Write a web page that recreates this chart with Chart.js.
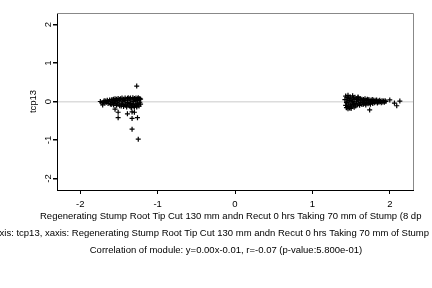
<!DOCTYPE html>
<html>
<head>
<meta charset="utf-8">
<script src="https://cdn.jsdelivr.net/npm/chart.js@4"></script>
<style>
  html, body { margin: 0; padding: 0; background: #fff; }
  #wrap { width: 432px; height: 288px; }
</style>
</head>
<body>
<div id="wrap"><canvas id="scatter" width="432" height="288"></canvas></div>
<script>
// Tick values on both axes
const xTicks = [-2, -1, 0, 1, 2];
const yTicks = [-2, -1, 0, 1, 2];

// Left cluster (dense band)
const leftX = [-1.74,-1.72,-1.70,-1.69,-1.68,-1.67,-1.66,-1.65,-1.64,-1.63,
  -1.62,-1.61,-1.60,-1.60,-1.59,-1.58,-1.57,-1.57,-1.56,-1.55,
  -1.55,-1.54,-1.53,-1.53,-1.52,-1.51,-1.51,-1.50,-1.49,-1.49,
  -1.48,-1.47,-1.47,-1.46,-1.45,-1.45,-1.44,-1.44,-1.43,-1.42,
  -1.42,-1.41,-1.41,-1.40,-1.39,-1.39,-1.38,-1.38,-1.37,-1.36,
  -1.36,-1.35,-1.35,-1.34,-1.33,-1.33,-1.32,-1.32,-1.31,-1.30,
  -1.30,-1.29,-1.29,-1.28,-1.28,-1.27,-1.27,-1.26,-1.26,-1.25,
  -1.25,-1.24,-1.24,-1.23,-1.23,-1.22,-1.22,-1.34,-1.30,-1.27];
const leftY = [0.00,-0.03,-0.01,0.02,-0.04,0.01,-0.02,0.03,-0.05,0.00,
  0.04,-0.06,0.02,-0.08,0.05,-0.03,0.06,-0.09,0.01,0.07,
  -0.05,0.03,-0.10,0.06,-0.02,0.08,-0.07,0.02,-0.11,0.05,
  0.07,-0.04,-0.12,0.09,0.01,-0.08,0.06,-0.13,0.03,-0.06,
  0.09,-0.10,0.04,-0.14,0.08,-0.03,0.10,-0.09,0.02,-0.12,
  0.07,-0.05,0.09,-0.15,0.04,-0.08,0.10,-0.11,0.00,0.08,
  -0.13,0.05,-0.06,0.09,-0.10,0.03,-0.14,0.07,-0.04,0.10,
  -0.09,0.05,-0.12,0.08,-0.02,0.06,-0.07,-0.16,-0.15,-0.12];

// Left cluster outliers
const leftOutX = [-1.71,-1.55,-1.51,-1.51,-1.39,-1.33,-1.30,-1.33,-1.26,-1.33,-1.25,-1.27];
const leftOutY = [-0.09,-0.20,-0.28,-0.42,-0.32,-0.27,-0.28,-0.44,-0.42,-0.72,-0.98,0.40];

// Right cluster (dense band)
const rightX = [1.42,1.43,1.43,1.44,1.44,1.45,1.45,1.46,1.46,1.47,
  1.47,1.48,1.48,1.49,1.49,1.50,1.50,1.51,1.51,1.52,
  1.52,1.53,1.53,1.54,1.54,1.55,1.55,1.56,1.57,1.57,
  1.58,1.58,1.59,1.60,1.60,1.61,1.62,1.62,1.63,1.64,
  1.64,1.65,1.66,1.66,1.67,1.68,1.68,1.69,1.70,1.70,
  1.71,1.72,1.72,1.73,1.74,1.75,1.75,1.76,1.77,1.78,
  1.78,1.79,1.80,1.81,1.82,1.83,1.84,1.85,1.86,1.87,
  1.88,1.89,1.90,1.91,1.92,1.93,1.94,1.95,1.46,1.50];
const rightY = [0.05,-0.10,0.14,-0.03,-0.16,0.10,0.01,-0.13,0.16,-0.06,
  0.08,-0.17,0.03,-0.09,0.12,-0.14,0.06,-0.02,-0.11,0.15,
  0.00,-0.08,0.09,-0.15,0.04,-0.05,0.11,-0.12,0.07,-0.01,
  -0.09,0.05,0.10,-0.06,0.02,-0.10,0.07,-0.03,0.04,-0.08,
  0.06,-0.02,-0.07,0.05,0.01,-0.05,0.07,-0.09,0.03,-0.03,
  0.06,-0.06,0.02,0.05,-0.04,0.01,-0.07,0.04,-0.02,0.05,
  -0.05,0.02,-0.03,0.03,-0.01,0.04,-0.04,0.01,-0.02,0.03,
  0.00,-0.03,0.02,-0.01,0.01,-0.02,0.02,0.00,-0.19,-0.18];

// Right cluster outliers / tail
const rightOutX = [1.59, 1.74, 2.00, 2.06, 2.13, 2.09];
const rightOutY = [0.12, -0.22, 0.04, -0.04, 0.01, -0.11];

const yTitle = 'tcp13';
const xTitle = 'Regenerating Stump Root Tip Cut 130 mm andn Recut 0 hrs Taking 70 mm of Stump (8 dp';
const subTitle = 'yaxis: tcp13, xaxis: Regenerating Stump Root Tip Cut 130 mm andn Recut 0 hrs Taking 70 mm of Stump';
const corrText = 'Correlation of module: y=0.00x-0.01, r=-0.07 (p-value:5.800e-01)';

const FONT = '"Liberation Sans", Arial, sans-serif';

function toPoints(xs, ys) {
    return xs.map((x, i) => ({ x: x, y: ys[i] }));
}

const allPoints = [].concat(
    toPoints(leftX, leftY),
    toPoints(leftOutX, leftOutY),
    toPoints(rightX, rightY),
    toPoints(rightOutX, rightOutY)
);

// Frame, rotated y labels and the text lines under the plot
const decorations = {
    id: 'decorations',
    afterDraw(chart) {
        const ctx = chart.ctx;
        const area = chart.chartArea;
        const ys = chart.scales.y;

        ctx.save();
        // top and right border in grey
        ctx.strokeStyle = '#888';
        ctx.lineWidth = 1;
        ctx.beginPath();
        ctx.moveTo(area.left, area.top + 0.5);
        ctx.lineTo(area.right + 0.5, area.top + 0.5);
        ctx.lineTo(area.right + 0.5, area.bottom);
        ctx.stroke();

        ctx.fillStyle = '#000';
        ctx.font = '9.5px ' + FONT;
        ctx.textAlign = 'center';
        ctx.textBaseline = 'middle';

        // rotated y tick labels
        yTicks.forEach(v => {
            ctx.save();
            ctx.translate(48, ys.getPixelForValue(v));
            ctx.rotate(-Math.PI / 2);
            ctx.fillText(String(v), 0, 0);
            ctx.restore();
        });

        // y axis title
        ctx.save();
        ctx.translate(33, ys.getPixelForValue(0));
        ctx.rotate(-Math.PI / 2);
        ctx.fillText(yTitle, 0, 0);
        ctx.restore();

        // lines under the plot
        ctx.textAlign = 'left';
        ctx.fillText(xTitle, 40, 216);
        ctx.textAlign = 'right';
        ctx.fillText(subTitle, 429, 233);
        ctx.textAlign = 'center';
        ctx.fillText(corrText, 226, 250);
        ctx.restore();
    }
};

new Chart(document.getElementById('scatter'), {
    type: 'scatter',
    data: {
        datasets: [{
            data: allPoints,
            pointStyle: 'cross',
            radius: 2.5,
            borderColor: '#000',
            borderWidth: 1.2,
            backgroundColor: '#000'
        }]
    },
    options: {
        responsive: false,
        animation: false,
        layout: { padding: { left: 0, right: 19, top: 13, bottom: 0 } },
        plugins: {
            legend: { display: false },
            tooltip: { enabled: false }
        },
        scales: {
            x: {
                type: 'linear',
                min: -2.3,
                max: 2.3,
                afterBuildTicks: s => { s.ticks = xTicks.map(v => ({ value: v })); },
                afterFit: s => { s.height = 98; },
                border: { color: '#000', width: 1 },
                grid: {
                    color: 'rgba(0,0,0,0)',
                    tickColor: '#000',
                    tickLength: 4,
                    drawOnChartArea: false
                },
                ticks: {
                    color: '#000',
                    font: { family: FONT, size: 9.5 },
                    padding: 5,
                    maxRotation: 0,
                    callback: v => String(v)
                }
            },
            y: {
                type: 'linear',
                min: -2.3,
                max: 2.3,
                afterBuildTicks: s => { s.ticks = yTicks.map(v => ({ value: v })); },
                afterFit: s => { s.width = 57; },
                border: { color: '#000', width: 1 },
                grid: {
                    color: c => (c.tick && c.tick.value === 0) ? '#dcdcdc' : 'rgba(0,0,0,0)',
                    lineWidth: 1.5,
                    tickColor: '#000',
                    tickLength: 4
                },
                ticks: { display: false }
            }
        }
    },
    plugins: [decorations]
});
</script>
</body>
</html>
